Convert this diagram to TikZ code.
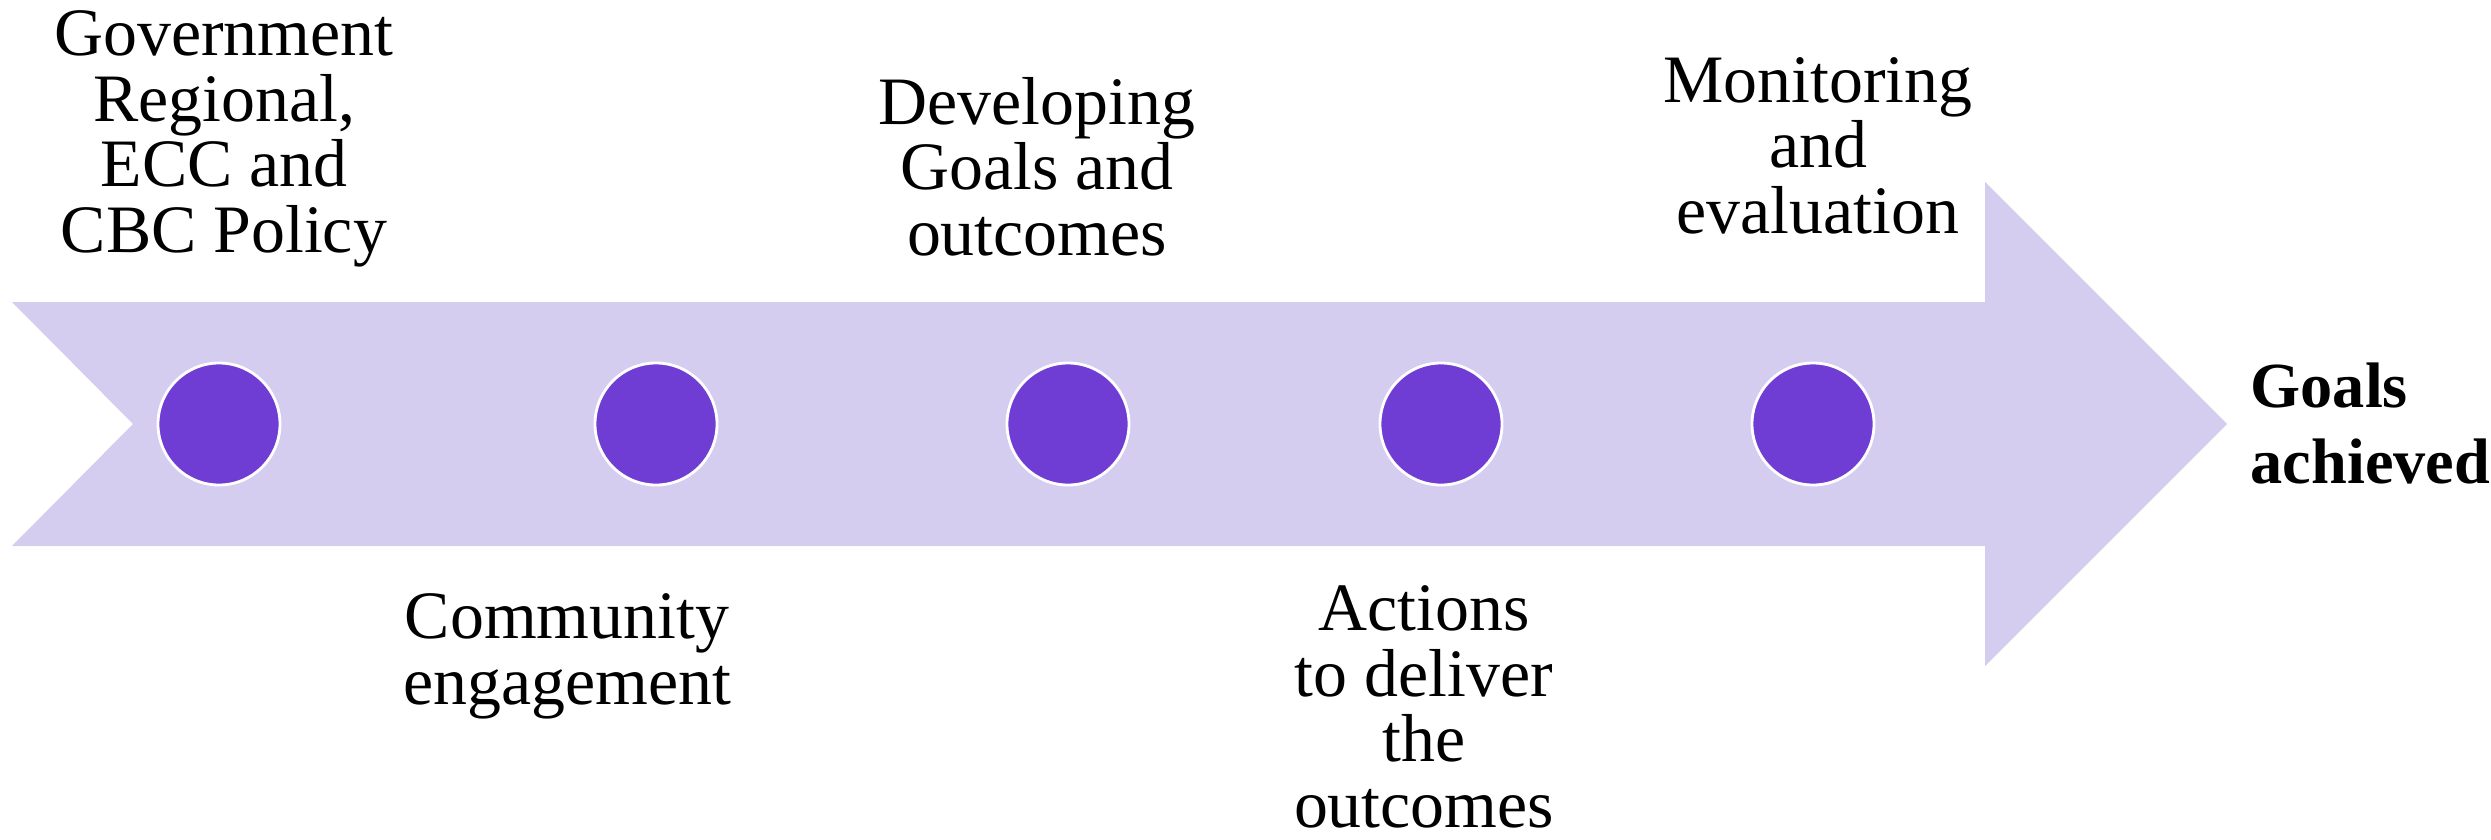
\documentclass[tikz,border=0pt]{standalone}
\usepackage{fontspec}
\setmainfont{Liberation Serif}
\definecolor{bandcol}{RGB}{213,205,239}
\definecolor{dotcol}{RGB}{112,61,212}
\begin{document}
\begin{tikzpicture}[x=1cm,y=1cm,
  dot/.style={circle,fill=dotcol,draw=white,line width=0.8pt,minimum size=1.22cm,inner sep=0pt},
  lbl/.style={align=center,inner sep=0pt,font=\fontsize{19.3}{18.6}\selectfont},
  goal/.style={align=left,inner sep=0pt,font=\fontsize{18.3}{21.6}\selectfont\bfseries}]
\useasboundingbox (0,0) rectangle (24.91,8.39);
% big arrow
\fill[bandcol] (0.12,5.37) -- (1.33,4.15) -- (0.12,2.93) -- (19.85,2.93) -- (19.85,1.73)
  -- (22.27,4.15) -- (19.85,6.57) -- (19.85,5.37) -- cycle;
% dots
\node[dot] (d1) at (2.19,4.15) {};
\node[dot] (d2) at (6.56,4.15) {};
\node[dot] (d3) at (10.68,4.15) {};
\node[dot] (d4) at (14.41,4.15) {};
\node[dot] (d5) at (18.13,4.15) {};
% labels (anchored at baseline of last line)
\node[lbl,anchor=base] (t1) at (2.24,5.87) {Government\\Regional,\\ECC and\\CBC Policy};
\node[lbl,anchor=base] (t2) at (5.67,1.35) {Community\\engagement};
\node[lbl,anchor=base] (t3) at (10.37,5.84) {Developing\\Goals and\\outcomes};
\node[lbl,anchor=base] (t4) at (14.24,0.12) {Actions\\to deliver\\the\\outcomes};
\node[lbl,anchor=base] (t5) at (18.18,6.06) {Monitoring\\and\\evaluation};
\node[goal,anchor=base west] (t6) at (22.50,3.56) {Goals\\achieved};
\end{tikzpicture}
\end{document}
